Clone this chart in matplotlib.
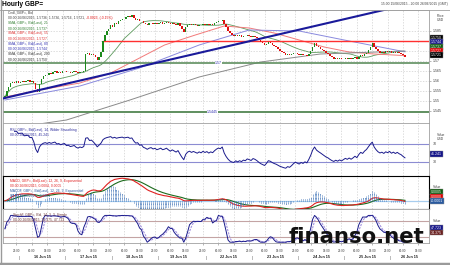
import matplotlib
matplotlib.use('Agg')
import matplotlib.pyplot as plt
from matplotlib.lines import Line2D
import numpy as np
import pandas as pd

W, H = 450, 265
plt.rcParams['font.family'] = ['Liberation Sans', 'DejaVu Sans']

# hourly closes: 15 Jun 16:00 .. 19 Jun 21:00, then 21 Jun 21:00 .. 26 Jun 07:00
closes = [
    1.5525, 1.5548, 1.5570, 1.5588, 1.5595, 1.5590, 1.5598, 1.5592, 1.5596, 1.5601, 1.5594, 1.5599,
    1.5603, 1.5597, 1.5600, 1.5588, 1.5562, 1.5545, 1.5585, 1.5610, 1.5625, 1.5632, 1.5628, 1.5640,
    1.5636, 1.5644, 1.5650, 1.5642, 1.5646, 1.5641, 1.5648, 1.5652, 1.5644, 1.5647, 1.5642, 1.5645,
    1.5649, 1.5643, 1.5640, 1.5646, 1.5644, 1.5650, 1.5735, 1.5742, 1.5730, 1.5736, 1.5728, 1.5718,
    1.5705, 1.5722, 1.5745, 1.5800, 1.5830, 1.5850, 1.5862, 1.5878, 1.5870, 1.5890, 1.5885, 1.5898,
    1.5905, 1.5912, 1.5908, 1.5918, 1.5925, 1.5920, 1.5928, 1.5915, 1.5905, 1.5910, 1.5898, 1.5902,
    1.5890, 1.5886, 1.5880, 1.5888, 1.5892, 1.5886, 1.5890, 1.5884, 1.5888, 1.5893, 1.5887, 1.5890,
    1.5895, 1.5889, 1.5884, 1.5890, 1.5886, 1.5882, 1.5888, 1.5875, 1.5860, 1.5845, 1.5868, 1.5880,
    1.5885, 1.5879, 1.5884, 1.5880, 1.5876, 1.5882, 1.5878, 1.5885, 1.5880, 1.5884, 1.5878, 1.5883,
    1.5880, 1.5888, 1.5895, 1.5900, 1.5898, 1.5906, 1.5885, 1.5868, 1.5852, 1.5838, 1.5830, 1.5826,
    1.5832, 1.5824, 1.5828, 1.5822, 1.5827, 1.5823, 1.5829, 1.5825, 1.5820, 1.5826, 1.5822, 1.5815,
    1.5805, 1.5795, 1.5788, 1.5780, 1.5786, 1.5794, 1.5790, 1.5782, 1.5775, 1.5770, 1.5762, 1.5752,
    1.5745, 1.5738, 1.5732, 1.5736, 1.5729, 1.5733, 1.5738, 1.5742, 1.5736, 1.5730, 1.5734, 1.5728,
    1.5732, 1.5726, 1.5735, 1.5748, 1.5770, 1.5788, 1.5775, 1.5768, 1.5762, 1.5755, 1.5748, 1.5740,
    1.5735, 1.5726, 1.5718, 1.5712, 1.5716, 1.5710, 1.5714, 1.5708, 1.5712, 1.5716, 1.5711, 1.5715,
    1.5709, 1.5713, 1.5718, 1.5712, 1.5722, 1.5730, 1.5726, 1.5735, 1.5742, 1.5755, 1.5772, 1.5788,
    1.5770, 1.5758, 1.5748, 1.5742, 1.5746, 1.5740, 1.5748, 1.5744, 1.5750, 1.5742, 1.5747, 1.5741,
    1.5746, 1.5740, 1.5736, 1.5728, 1.5721,
]
open0 = 1.5518

times = list(pd.date_range('2015-06-15 16:00', periods=102, freq='h')) + \
    list(pd.date_range('2015-06-21 21:00', periods=107, freq='h'))

# moving averages (bar index, value)
sma55_i = [0, 18, 39, 55, 70, 83, 99, 114, 127, 140, 153, 166, 179, 192, 208]
sma55_v = [1.5520, 1.5555, 1.5590, 1.5640, 1.5715, 1.5780, 1.5830, 1.5875, 1.5865,
           1.5840, 1.5805, 1.5770, 1.5745, 1.5735, 1.5727]
sma89_i = [0, 39, 70, 101, 127, 153, 179, 208]
sma89_v = [1.5505, 1.5575, 1.5665, 1.5780, 1.5855, 1.5850, 1.5800, 1.5746]
sma200_i = [0, 32, 65, 101, 133, 164, 208]
sma200_v = [1.5360, 1.5405, 1.5505, 1.5620, 1.5695, 1.5735, 1.5750]

trend_i = [0, 197]
trend_v = [1.5515, 1.5955]
res_level = 1.5800
sup_level = 1.5690
low_level = 1.5445

# 1.58 and 1.575 sit under the price tags, so they are left blank
price_ticks = [1.585, 1.58, 1.575, 1.57, 1.565, 1.56, 1.555, 1.55, 1.545]
price_labels = ['1.585', '', '', '1.57', '1.565', '1.56', '1.555', '1.55', '1.545']
price_tags = [('1.5750', '#000000'), ('1.5744', '#14148a'), ('1.5737', '#0d5c0d'),
              ('1.5727', '#e00000'), ('1.5721', '#000000')]

legend_main = [
    ('Cndl, GBP=, Bid', '#404040'),
    ('00:00 26/06/2015, 1.5736, 1.5736, 1.5716, 1.5721, ', '#404040'),
    ('SMA, GBP=, Bid(Last), 21', '#2e7d2e'),
    ('00:00 26/06/2015, 1.5737', '#2e7d2e'),
    ('SMA, GBP=, Bid(Last), 55', '#e03030'),
    ('00:00 26/06/2015, 1.5727', '#e03030'),
    ('SMA, GBP=, Bid(Last), 89', '#3030b0'),
    ('00:00 26/06/2015, 1.5744', '#3030b0'),
    ('SMA, GBP=, Bid(Last), 200', '#303030'),
    ('00:00 26/06/2015, 1.5750', '#303030'),
]

fig = plt.figure(figsize=(4.5, 2.65), dpi=100)


def rect(x0, y0, x1, y1):
    return [x0 / W, 1 - y1 / H, (x1 - x0) / W, (y1 - y0) / H]


def ftext(x, y, s, **kw):
    kw.setdefault('va', 'center')
    return fig.text(x / W, 1 - y / H, s, **kw)


def tag(y, s, bg):
    ftext(431, y, s, fontsize=2.6, color='white',
          bbox=dict(boxstyle='square,pad=0.25', fc=bg, ec='#909090', lw=0.3), zorder=5)


c = np.array(closes)
o = np.r_[open0, c[:-1]]
idx = np.arange(len(c))
XL = (-1, 220.5)

# extended clock for the empty area on the right
all_times = times + [times[-1] + pd.Timedelta(hours=k) for k in range(1, 14)]
tick_pos = [i for i, t in enumerate(all_times) if t.hour in (22, 6, 14) and i <= XL[1]]
tick_lab = [all_times[i].strftime('%H:%M') for i in tick_pos]

grid_kw = dict(color='#cfcfcf', lw=0.5, ls=(0, (2, 2)))


def style(ax):
    ax.set_xlim(*XL)
    for s in ax.spines.values():
        s.set_color('#a0a0a0')
        s.set_linewidth(0.6)
    ax.set_xticks(tick_pos)
    ax.tick_params(axis='x', length=0, labelbottom=False)
    ax.grid(True, axis='x', **grid_kw)


# --- main price panel ---
ax = fig.add_axes(rect(3, 10, 429, 123))
style(ax)
ax.set_ylim(1.539, 1.5955)
ax.yaxis.tick_right()
ax.set_yticks(price_ticks)
ax.set_yticklabels(price_labels)
ax.tick_params(axis='y', length=1.5, width=0.4, color='#808080', labelsize=2.6,
               labelcolor='#404040', pad=1.5)
ax.grid(True, axis='y', **grid_kw)

up = c >= o
body = np.maximum(np.abs(c - o), 0.00012)
bot = np.minimum(o, c)
ax.bar(idx[up], body[up], bottom=bot[up], width=0.75, color='#1b8a1b', lw=0, zorder=3)
ax.bar(idx[~up], body[~up], bottom=bot[~up], width=0.75, color='#e01010', lw=0, zorder=3)

sma21 = pd.Series(c).rolling(21, min_periods=1).mean()
ax.plot(idx, sma21, color='#5d9a5d', lw=0.6, zorder=2)
ax.plot(sma55_i, sma55_v, color='#f27a7a', lw=0.7, zorder=2)
ax.plot(sma89_i, sma89_v, color='#8a8ade', lw=0.7, zorder=2)
ax.plot(sma200_i, sma200_v, color='#8a8a8a', lw=0.7, zorder=2)

slope = (trend_v[1] - trend_v[0]) / (trend_i[1] - trend_i[0])
tx = np.array([XL[0], XL[1]])
ax.plot(tx, trend_v[0] + slope * (tx - trend_i[0]), color='#1a1a9a', lw=1.5, zorder=4)

ax.plot([51, XL[1]], [res_level, res_level], color='#ff3030', lw=1.0, zorder=2)
ax.axhline(sup_level, color='#5f8f5f', lw=1.2, zorder=2)
ax.axhline(low_level, color='#5f8f5f', lw=1.4, zorder=2)
ax.text(111, sup_level, '1.57', fontsize=2.6, color='#3030b0', ha='center', va='center',
        bbox=dict(boxstyle='square,pad=0.1', fc='white', ec='none'), zorder=5)
ax.text(108, low_level, '1.5445', fontsize=2.6, color='#3030b0', ha='center', va='center',
        bbox=dict(boxstyle='square,pad=0.1', fc='white', ec='none'), zorder=5)

for k, (s, col) in enumerate(legend_main):
    t = ftext(8, 12.5 + 5.2 * k, s, fontsize=2.4, color=col)
    if k == 1:
        ax.annotate('-0.0023, (-0.15%)', xy=(1, 0.5), xycoords=t, va='center',
                    fontsize=2.4, color='#e01010', annotation_clip=False)

ftext(437, 16, 'Price', fontsize=2.4, color='#404040')
ftext(437, 20, 'USD', fontsize=2.4, color='#404040')
for k, (s, bg) in enumerate(price_tags):
    tag(38 + 4.3 * k, s, bg)

# --- RSI ---
d = np.diff(c, prepend=open0)
gain = pd.Series(np.clip(d, 0, None)).ewm(alpha=1 / 14, adjust=False).mean()
loss = pd.Series(np.clip(-d, 0, None)).ewm(alpha=1 / 14, adjust=False).mean()
rsi = 100 - 100 / (1 + gain / loss.replace(0, np.nan))

ax_r = fig.add_axes(rect(3, 123, 429, 176))
style(ax_r)
ax_r.set_ylim(1, 114)
ax_r.set_yticks([])
ax_r.axhline(70, color='#8c8cd2', lw=0.8)
ax_r.axhline(30, color='#8c8cd2', lw=0.8)
ax_r.plot(idx, rsi, color='#1a1a8c', lw=0.7)
ftext(10, 130, 'RSI, GBP=, Bid(Last), 14, Wilder Smoothing', fontsize=2.4, color='#2a2a9a')
ftext(10, 135, '00:00 26/06/2015, 45.241', fontsize=2.4, color='#2a2a9a')
ftext(437, 135, 'Value', fontsize=2.4, color='#404040')
ftext(437, 139, 'USD', fontsize=2.4, color='#404040')
ftext(433, 144, '70', fontsize=2.6, color='#404040')
ftext(433, 162, '30', fontsize=2.6, color='#404040')
tag(154, '41.241', '#14148a')

# --- MACD ---
s = pd.Series(c)
macd = s.ewm(span=12, adjust=False).mean() - s.ewm(span=26, adjust=False).mean()
signal = macd.ewm(span=9, adjust=False).mean()
hist = macd - signal

ax_m = fig.add_axes(rect(3, 176, 429, 209))
style(ax_m)
m = np.nanmax(np.abs(macd)) * 1.1
ax_m.set_ylim(-m / 3, m)
ax_m.set_yticks([])
ax_m.axhline(0, color='#a8cdee', lw=0.9)
ax_h = ax_m.twinx()
hm = np.nanmax(np.abs(hist)) * 1.6
ax_h.set_ylim(-hm / 3, hm)
ax_h.set_yticks([])
ax_h.set_xlim(*XL)
ax_h.vlines(idx, 0, hist, color='#3a6fb5', lw=0.6, ls=(0, (1, 0.6)))
ax_m.plot(idx, signal, color='#1d6b1d', lw=0.8, zorder=3)
ax_m.plot(idx, macd, color='#e02020', lw=0.8, zorder=3)
ftext(10, 181, 'MACD, GBP=, Bid(Last), 12, 26, 9, Exponential', fontsize=2.4, color='#e02020')
ftext(10, 186, '00:00 26/06/2015, 0.0004, 0.0005', fontsize=2.4, color='#e02020')
ftext(10, 191, 'MACDF, GBP=, Bid(Last), 12, 26, 9, Exponential', fontsize=2.4, color='#2a5aa0')
ftext(10, 196, '00:00 26/06/2015, -0.0001', fontsize=2.4, color='#2a5aa0')
ftext(433, 187, 'Value', fontsize=2.4, color='#404040')
tag(192, '0.0005', '#0d5c0d')
tag(196.5, '0.0000', '#e00000')
tag(201, '-0.0001', '#2a5aa0')

# --- Stochastic ---
hh = s.rolling(14, min_periods=1).max()
ll = s.rolling(14, min_periods=1).min()
fast = ((s - ll) / (hh - ll).replace(0, np.nan) * 100).fillna(50)
slow_k = fast.rolling(3, min_periods=1).mean()
slow_d = slow_k.rolling(3, min_periods=1).mean()

ax_s = fig.add_axes(rect(3, 209, 429, 243))
style(ax_s)
ax_s.set_ylim(-3, 124)
ax_s.set_yticks([])
ax_s.axhline(80, color='#c4a4a4', lw=0.8)
ax_s.axhline(20, color='#c4a4a4', lw=0.8)
ax_s.plot(idx, slow_d, color='#a595e0', lw=0.8, ls=(0, (2, 1)))
ax_s.plot(idx, slow_k, color='#1a1a8c', lw=0.7)
ax_s.tick_params(axis='x', length=1.5, width=0.4, color='#808080', labelbottom=True,
                 labelsize=2.2, labelcolor='#404040', pad=2.5)
ax_s.set_xticklabels(tick_lab)
ftext(13, 215, 'StochF, GBP=, Bid, 14, 3, 3, Simple', fontsize=2.4, color='#6b3535')
ftext(13, 220, '00:00 26/06/2015, 34.375, 47.723', fontsize=2.4, color='#6b3535')
ftext(433, 221, 'Value', fontsize=2.4, color='#404040')
tag(228, '47.723', '#14148a')
tag(232.5, '34.375', '#6b1f1f')

# date labels and day separators
days = pd.Series(range(len(all_times)), index=pd.DatetimeIndex(all_times).normalize())
for day, grp in days.groupby(level=0):
    pos = [p for p in grp.values if p <= XL[1]]
    if len(pos) < 10:
        continue
    xc = 3 + (np.mean(pos) - XL[0]) / (XL[1] - XL[0]) * 426
    ftext(xc, 257.5, day.strftime('%-d %b %y'), fontsize=2.7, fontweight='bold',
          color='#202020', ha='center')
    xs = 3 + (pos[0] - 0.5 - XL[0]) / (XL[1] - XL[0]) * 426
    if pos[0] > 5:
        ftext(xs, 257.5, '|', fontsize=2.7, color='#404040', ha='center')

# header
ftext(2, 5, 'Hourly GBP=', fontsize=4.8, fontweight='bold', color='#000000')
ftext(448, 4.5, '15:00 15/06/2015 - 20:00 26/06/2015 (GMT)', fontsize=2.4,
      color='#404040', ha='right')
fig.add_artist(Line2D([0, 1], [1 - 9.5 / H] * 2, color='#a0a0a0', lw=0.6))

# frame
fig.add_artist(Line2D([1 / W, 1 / W], [0, 1], color='#9a9a9a', lw=1.0))
fig.add_artist(Line2D([0, 1], [1.5 / H, 1.5 / H], color='#9a9a9a', lw=2.5))

# watermark
ftext(289, 243, 'finanso.net', fontsize=15.3, fontweight='bold', family='DejaVu Sans',
      color='#111111', va='baseline', zorder=10)

fig.savefig('out.png', dpi=100)
